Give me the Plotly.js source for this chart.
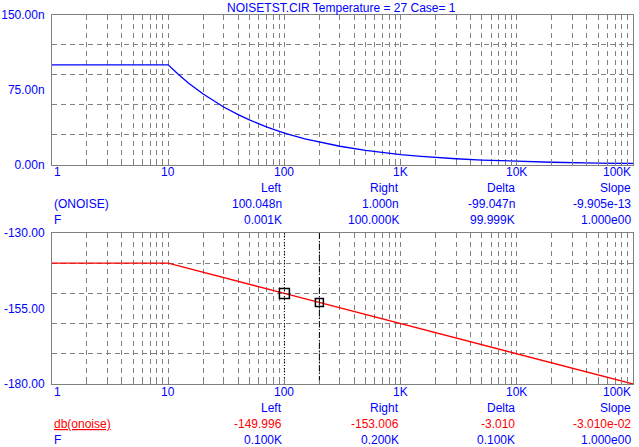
<!DOCTYPE html>
<html>
<head>
<meta charset="utf-8">
<script src="https://cdn.plot.ly/plotly-3.0.1.min.js"></script>
<style>html,body{margin:0;padding:0;background:#fff;}#chart{width:639px;height:447px;}</style>
</head>
<body>
<div id="chart"></div>
<script>
// ---- data ----
const freqTop = [1, 2, 5, 10, 12, 15, 20, 25, 30, 40, 50, 70, 100, 150, 200, 300, 500, 700, 1000, 1500, 2000, 3000, 5000, 7000, 10000, 20000, 50000, 100000];
const onoiseN = [100.05, 100.05, 100.05, 100.0, 91.3, 81.6, 70.7, 63.2, 57.7, 50.0, 44.7, 37.8, 31.6, 25.8, 22.4, 18.3, 14.1, 12.0, 10.0, 8.16, 7.07, 5.77, 4.47, 3.78, 3.16, 2.24, 1.41, 1.0];
const freqBot = [1, 10, 100, 200, 1000, 10000, 100000];
const dbOnoise = [-140, -140, -150, -153.01, -160, -170, -180];
const cursorF = [100, 200];
const cursorDb = [-149.996, -153.006];
const xTickVals = [1, 10, 100, 1000, 10000, 100000];
const xTickText = ['1', '10', '100', '1K', '10K', '100K'];
const xMinorVals = [2,3,4,5,6,7,8,9,20,30,40,50,60,70,80,90,200,300,400,500,600,700,800,900,2000,3000,4000,5000,6000,7000,8000,9000,20000,30000,40000,50000,60000,70000,80000,90000];
const yTopTicks = [0, 75, 150];
const yTopText = ['0.00n', '75.00n', '150.00n'];
const yTopGrid = [30, 60, 90, 120];
const yBotTicks = [-180, -155, -130];
const yBotText = ['-180.00', '-155.00', '-130.00'];
const yBotGrid = [-170, -160, -150, -140];
const tableHead = ['Left', 'Right', 'Delta', 'Slope'];
const topRow1Label = '(ONOISE)';
const topRow1 = ['100.048n', '1.000n', '-99.047n', '-9.905e-13'];
const topRow2Label = 'F';
const topRow2 = ['0.001K', '100.000K', '99.999K', '1.000e00'];
const botRow1Label = 'db(onoise)';
const botRow1 = ['-149.996', '-153.006', '-3.010', '-3.010e-02'];
const botRow2Label = 'F';
const botRow2 = ['0.100K', '0.200K', '0.100K', '1.000e00'];
const titleText = 'NOISETST.CIR Temperature = 27 Case= 1';

// ---- layout helpers ----
const W = 639, H = 447;
const px = x => x / W;
const py = y => 1 - y / H;
const BLUE = '#0000ff', RED = '#ff0000', GRID = '#808080';
const FONT = {family: 'Liberation Sans, Arial, sans-serif', size: 12, color: BLUE};
const DASH = '5px,4px';

function xAxis(anchor, dom) {
  return {
    type: 'log', range: [0, 5], domain: dom, anchor: anchor,
    tickvals: xTickVals, showticklabels: false,
    showgrid: true, gridcolor: GRID, griddash: DASH, gridwidth: 1,
    ticks: 'inside', ticklen: 4, tickcolor: GRID,
    showline: true, linecolor: GRID, linewidth: 1, mirror: true,
    zeroline: false, fixedrange: true,
    minor: {tickmode: 'array', tickvals: xMinorVals, showgrid: true, gridcolor: GRID, griddash: DASH, gridwidth: 1, ticks: 'inside', ticklen: 4, tickcolor: GRID}
  };
}
function yAxis(anchor, dom, range, tv, tt, grid) {
  return {
    range: range, domain: dom, anchor: anchor,
    tickmode: 'array', tickvals: tv, ticktext: tt, tickfont: FONT,
    showgrid: false, ticks: '', ticklabelstandoff: 4,
    showline: true, linecolor: GRID, linewidth: 1, mirror: true,
    zeroline: false, fixedrange: true,
    minor: {tickmode: 'array', tickvals: grid, showgrid: true, gridcolor: GRID, griddash: DASH, gridwidth: 1, ticks: ''}
  };
}

const xDom = [px(52), px(633)];
const yTopDom = [py(164.5), py(15)];
const yBotDom = [py(384), py(233)];

const traces = [
  {x: freqTop, y: onoiseN, xaxis: 'x', yaxis: 'y', mode: 'lines', line: {color: BLUE, width: 1.3}, hoverinfo: 'none'},
  {x: freqBot, y: dbOnoise, xaxis: 'x2', yaxis: 'y2', mode: 'lines', line: {color: RED, width: 1.3}, hoverinfo: 'none'},
  {x: [cursorF[0], cursorF[0]], y: [-130, -180], xaxis: 'x2', yaxis: 'y2', mode: 'lines', line: {color: '#000', width: 1, dash: '1px,2px'}, hoverinfo: 'none'},
  {x: [cursorF[1], cursorF[1]], y: [-130, -180], xaxis: 'x2', yaxis: 'y2', mode: 'lines', line: {color: '#000', width: 1, dash: '6px,2px,1px,2px'}, hoverinfo: 'none'},
  {x: [cursorF[0]], y: [cursorDb[0]], xaxis: 'x2', yaxis: 'y2', mode: 'markers', marker: {symbol: 'square-open', size: 10, color: '#000', line: {width: 1.5, color: '#000'}}, hoverinfo: 'none'},
  {x: [cursorF[1]], y: [cursorDb[1]], xaxis: 'x2', yaxis: 'y2', mode: 'markers', marker: {symbol: 'square-open', size: 8, color: '#000', line: {width: 1.5, color: '#000'}}, hoverinfo: 'none'}
];

const ann = [];
ann.push({text: titleText, xref: 'paper', yref: 'paper', x: px(342), y: py(8), xanchor: 'center', yanchor: 'middle', showarrow: false, font: FONT});
function xLabels(xref, yPix) {
  xTickVals.forEach((v, i) => {
    const anc = i === 0 ? 'left' : (i === xTickVals.length - 1 ? 'right' : 'center');
    ann.push({text: xTickText[i], xref: xref, yref: 'paper', x: Math.log10(v), y: py(yPix), xanchor: anc, yanchor: 'middle', showarrow: false, font: FONT});
  });
}
xLabels('x', 172);
xLabels('x2', 392);
function table(xref, yHead, lab1, row1, c1, lab2, row2, underline) {
  const colX = [100, 1000, 10000, 100000];
  tableHead.forEach((h, i) => ann.push({text: h, xref: xref, yref: 'paper', x: Math.log10(colX[i]), y: py(yHead), xanchor: 'right', yanchor: 'middle', showarrow: false, font: FONT}));
  ann.push({text: underline ? '<span style="text-decoration:underline">' + lab1 + '</span>' : lab1, xref: 'paper', yref: 'paper', x: px(52), y: py(yHead + 16), xanchor: 'left', yanchor: 'middle', showarrow: false, font: Object.assign({}, FONT, {color: c1})});
  row1.forEach((t, i) => ann.push({text: t, xref: xref, yref: 'paper', x: Math.log10(colX[i]), y: py(yHead + 16), xanchor: 'right', yanchor: 'middle', showarrow: false, font: Object.assign({}, FONT, {color: c1})}));
  ann.push({text: lab2, xref: 'paper', yref: 'paper', x: px(52), y: py(yHead + 32), xanchor: 'left', yanchor: 'middle', showarrow: false, font: FONT});
  row2.forEach((t, i) => ann.push({text: t, xref: xref, yref: 'paper', x: Math.log10(colX[i]), y: py(yHead + 32), xanchor: 'right', yanchor: 'middle', showarrow: false, font: FONT}));
}
table('x', 188, topRow1Label, topRow1, BLUE, topRow2Label, topRow2, false);
table('x2', 408, botRow1Label, botRow1, RED, botRow2Label, botRow2, true);

const layout = {
  width: W, height: H, margin: {l: 0, r: 0, t: 0, b: 0, pad: 0},
  paper_bgcolor: '#ffffff', plot_bgcolor: '#ffffff',
  showlegend: false, font: FONT,
  xaxis: xAxis('y', xDom),
  xaxis2: xAxis('y2', xDom),
  yaxis: yAxis('x', yTopDom, [0, 150], yTopTicks, yTopText, yTopGrid),
  yaxis2: yAxis('x2', yBotDom, [-180, -130], yBotTicks, yBotText, yBotGrid),
  annotations: ann
};

Plotly.newPlot('chart', traces, layout, {staticPlot: true, displayModeBar: false});
</script>
</body>
</html>
